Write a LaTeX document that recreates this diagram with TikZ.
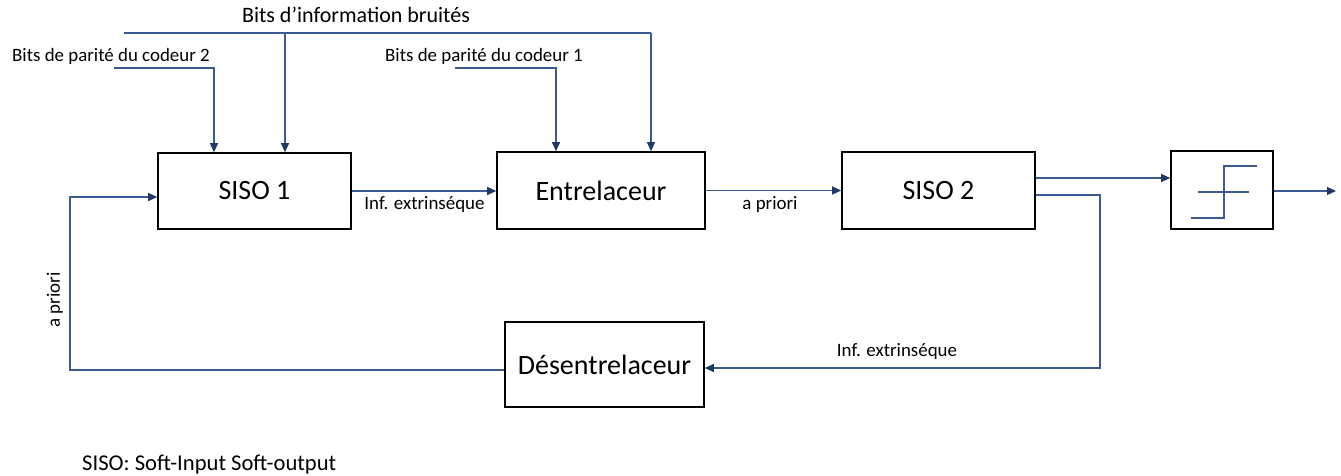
\documentclass[tikz,border=0pt]{standalone}
\usepackage{fontspec}
\setmainfont{Carlito}
\usetikzlibrary{arrows.meta}
\definecolor{wirec}{HTML}{3B5A94}
\definecolor{tipc}{HTML}{1F3864}
\begin{document}
\begin{tikzpicture}[x=1pt,y=-1pt,
  blk/.style={draw=black,line width=1.6pt,fill=white,inner sep=0pt,font=\fontsize{28}{30}\selectfont},
  wire/.style={draw=wirec,line width=1.1pt},
  arr/.style={wire,-{Triangle[length=9pt,width=8pt,color=tipc]}},
  lbl/.style={font=\fontsize{18.9}{20}\selectfont,inner sep=0pt}]
\useasboundingbox (0,0) rectangle (1341,476);
\fill[white] (0,0) rectangle (1341,476);

% blocks
\node[blk,minimum width=193pt,minimum height=76pt] (siso1) at (254.5,191) {SISO 1};
\node[blk,minimum width=208pt,minimum height=77pt] (entr) at (601,190.5) {Entrelaceur};
\node[blk,minimum width=193pt,minimum height=77pt] (siso2) at (938.5,190.5) {SISO 2};
\node[blk,minimum width=102pt,minimum height=78pt] (thr) at (1222,190) {};
\node[blk,minimum width=199pt,minimum height=85pt] (desent) at (604.5,364.5) {Désentrelaceur};

% threshold symbol
\draw[wire] (1198,192) -- (1249,192);
\draw[wire] (1191,218) -- (1224,218) -- (1224,166) -- (1257,166);

% top inputs
\coordinate (infoL) at (124,33);
\coordinate (infoM) at (285,33);
\coordinate (infoR) at (651,33);
\draw[wire] (infoL) -- (infoR);
\draw[arr] (infoM) -- (infoM |- siso1.north);
\draw[arr] (infoR) -- (infoR |- entr.north);

\coordinate (p2a) at (114,68);
\coordinate (p2b) at (214,68);
\draw[arr] (p2a) -- (p2b) -- (p2b |- siso1.north);

\coordinate (p1a) at (455,68);
\coordinate (p1b) at (556,68);
\draw[arr] (p1a) -- (p1b) -- (p1b |- entr.north);

% main chain
\draw[arr] (siso1.east) -- (siso1.east -| entr.west);
\draw[arr] (entr.east) -- (siso2.west);

\coordinate (s2a) at ([yshift=12.5pt]siso2.east);
\draw[arr] (s2a) -- (s2a -| thr.west);

\coordinate (outE) at (1336,191);
\draw[arr] (thr.east |- outE) -- (outE);

% feedback loop
\coordinate (s2b) at ([yshift=-4.5pt]siso2.east);
\coordinate (loopR) at (1100,368);
\draw[arr] (s2b) -| (loopR) -- (loopR -| desent.east);

\coordinate (fbL) at (70,370);
\coordinate (s1in) at ([yshift=-6pt]siso1.west);
\draw[arr] (desent.west |- fbL) -- (fbL) |- (s1in);

% labels
\node[font=\fontsize{22}{24}\selectfont,inner sep=0pt,anchor=base] (ltitle) at (356,23) {Bits d’information bruités};
\node[lbl,anchor=base west] (lp2) at (12,62) {Bits de parité du codeur 2};
\node[lbl,anchor=base west] (lp1) at (385,62) {Bits de parité du codeur 1};
\node[lbl] (linf1) at (424.5,205) {Inf. extrinséque};
\node[lbl] (lapr1) at (770,205) {a priori};
\node[lbl] (linf2) at (897,352) {Inf. extrinséque};
\node[lbl,rotate=90] (lapr2) at (55,300) {a priori};
\node[font=\fontsize{22.6}{24}\selectfont,inner sep=0pt,anchor=base west] (lfoot) at (82,470) {SISO: Soft-Input Soft-output};
\end{tikzpicture}
\end{document}
